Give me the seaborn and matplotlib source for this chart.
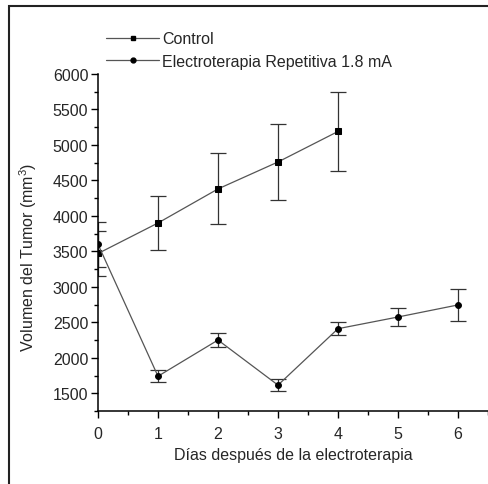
import matplotlib
matplotlib.use("Agg")
import matplotlib.pyplot as plt
import pandas as pd
import seaborn as sns
from matplotlib.lines import Line2D
from matplotlib.patches import Rectangle

# datos
dias_control = [0, 1, 2, 3, 4]
control = [3470, 3900, 4380, 4760, 5190]
control_err = [320, 380, 500, 540, 555]

dias_tratamiento = [0, 1, 2, 3, 4, 5, 6]
tratamiento = [3600, 1740, 2250, 1615, 2410, 2575, 2745]
tratamiento_err = [315, 87, 97, 87, 95, 125, 230]

etiquetas = ["Control", "Electroterapia Repetitiva 1.8 mA"]

sns.set_style("ticks")
plt.rcParams['font.family'] = ['Liberation Sans', 'DejaVu Sans']
plt.rcParams['mathtext.default'] = 'regular'

df = pd.concat([
    pd.DataFrame({'dia': dias_control, 'vol': control, 'grupo': etiquetas[0]}),
    pd.DataFrame({'dia': dias_tratamiento, 'vol': tratamiento, 'grupo': etiquetas[1]}),
])

fig = plt.figure(figsize=(4.88, 4.85), dpi=100)
ax = fig.add_axes([98 / 488, 73 / 485, 390 / 488, 337 / 485])

linea = '#555555'
# barras de error
ax.errorbar(dias_control, control, yerr=control_err, fmt='none', ecolor='#333333',
            elinewidth=0.9, capsize=6, capthick=0.9, zorder=2)
ax.errorbar(dias_tratamiento, tratamiento, yerr=tratamiento_err, fmt='none', ecolor='#333333',
            elinewidth=0.9, capsize=6, capthick=0.9, zorder=2)

sns.lineplot(data=df, x='dia', y='vol', hue='grupo', style='grupo',
             markers={etiquetas[0]: 's', etiquetas[1]: 'o'}, dashes=False,
             palette={etiquetas[0]: linea, etiquetas[1]: linea},
             markersize=4.2, markerfacecolor='black', markeredgecolor='black',
             linewidth=0.9, legend=False, ax=ax, zorder=3)

ax.set_xlim(0, 6.5)
ax.set_ylim(1250, 6000)
ax.set_xticks(range(0, 7))
ax.set_xticks([i + 0.5 for i in range(0, 7)], minor=True)
ax.set_yticks(range(1500, 6001, 500))
ax.set_yticks(range(1250, 6001, 250), minor=True)
ax.tick_params(axis='both', which='major', labelsize=11.5, length=5, width=1, color='black')
ax.tick_params(axis='x', which='major', pad=6)
ax.tick_params(axis='y', which='major', pad=2)
ax.tick_params(axis='both', which='minor', length=3, width=1, color='black')
sns.despine(ax=ax)
for s in ['left', 'bottom']:
    ax.spines[s].set_linewidth(1.1)
    ax.spines[s].set_color('black')

ax.set_xlabel('Días después de la electroterapia', fontsize=11.5, labelpad=4)
ax.set_ylabel('Volumen del Tumor (mm$^3$)', fontsize=11.5)
ax.yaxis.set_label_coords(-0.15, 0.46)

# leyenda
handles = [
    Line2D([0], [0], color=linea, lw=0.9, marker='s', markersize=3.5,
           markerfacecolor='black', markeredgecolor='black'),
    Line2D([0], [0], color=linea, lw=0.9, marker='o', markersize=3.5,
           markerfacecolor='black', markeredgecolor='black'),
]
fig.legend(handles, etiquetas, loc='upper left', bbox_to_anchor=(100 / 488, 1 - 26 / 485),
           frameon=False, fontsize=11.5, handlelength=3.3, handletextpad=0.2,
           labelspacing=0.45, borderaxespad=0)

# marco de la imagen
fig.patches.append(Rectangle((9 / 488, -0.1), 1.2, 1.1 - 7 / 485, transform=fig.transFigure,
                             fill=False, edgecolor='#222222', linewidth=1.5, zorder=0))

fig.savefig('out.png', dpi=100)
